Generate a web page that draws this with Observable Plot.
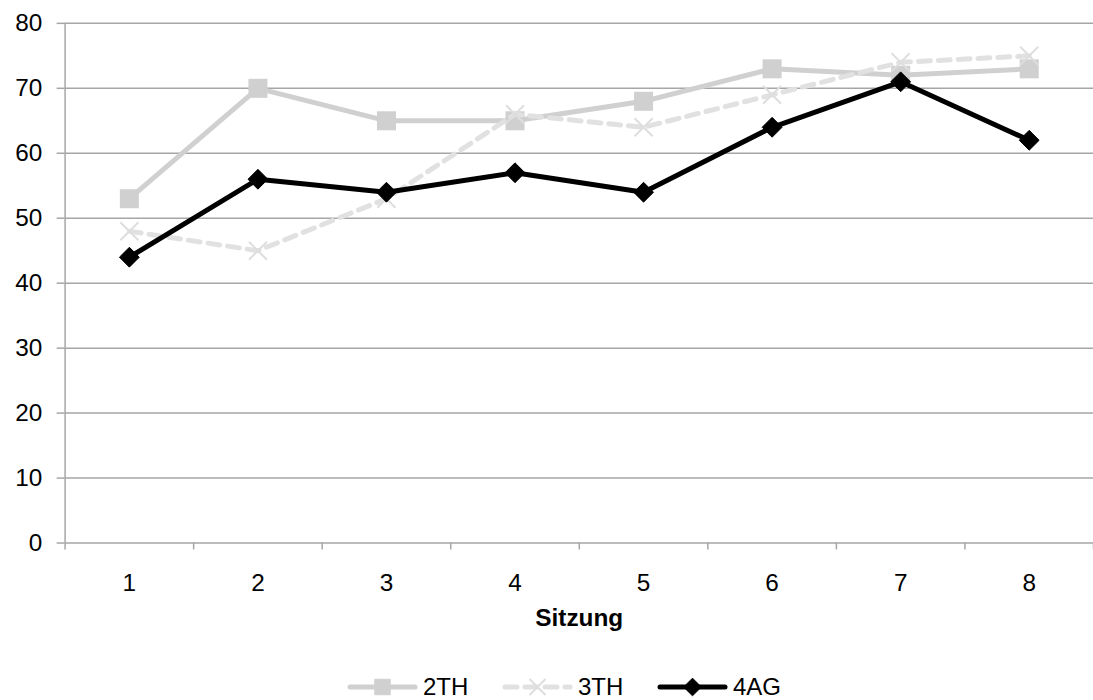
<!DOCTYPE html>
<html>
<head>
<meta charset="utf-8">
<script src="https://cdn.jsdelivr.net/npm/d3@7"></script>
<script src="https://cdn.jsdelivr.net/npm/@observablehq/plot@0.6"></script>
<style>
  html, body { margin: 0; padding: 0; background: #fff; overflow: hidden; }
  body { font-family: "Liberation Sans", Arial, sans-serif; width: 1093px; height: 700px; position: relative; }
  #legend { position: absolute; left: 347px; top: 674px; height: 25px; display: flex; align-items: center; font-size: 24px; line-height: 25px; color: #000; }
  .item { display: flex; align-items: center; width: 155px; height: 25px; }
  .item svg { display: block; margin-right: 5px; }
</style>
</head>
<body>
<div id="chart"></div>
<div id="legend"></div>
<script>
const sessions = [1, 2, 3, 4, 5, 6, 7, 8];
const values2TH = [53, 70, 65, 65, 68, 73, 72, 73];
const values3TH = [48, 45, 53, 66, 64, 69, 74, 75];
const values4AG = [44, 56, 54, 57, 54, 64, 71, 62];
const seriesNames = ["2TH", "3TH", "4AG"];
const yTicks = [0, 10, 20, 30, 40, 50, 60, 70, 80];
const xLabel = "Sitzung";

const toRows = (vals) => sessions.map((s, i) => ({ s, v: vals[i] }));
const d2 = toRows(values2TH), d3r = toRows(values3TH), d4 = toRows(values4AG);
const boundaries = sessions.map(s => s - 0.5).concat([sessions.length + 0.5]);

const gridCol = "#a6a6a6";
const font = 24.5;

const chart = Plot.plot({
  width: 1100,
  height: 650,
  marginLeft: 65,
  marginRight: 0,
  marginTop: 23,
  marginBottom: 104,
  style: { fontFamily: "Liberation Sans, Arial, sans-serif", background: "#fff", color: "#000", fontSize: font + "px" },
  x: { domain: [0.5, 8.5] },
  y: { domain: [0, 80] },
  marks: [
    Plot.gridY(yTicks, { stroke: gridCol, strokeOpacity: 1, strokeWidth: 1.5 }),
    Plot.ruleX([0.5], { stroke: gridCol, strokeWidth: 1.5 }),
    Plot.axisY(yTicks, { tickSize: 8, tickPadding: 15, stroke: gridCol, strokeWidth: 1.5, fill: "#000", fontSize: font, tickFormat: d => String(d), label: null }),
    Plot.axisX(boundaries, { tickSize: 7, tickFormat: () => "", stroke: gridCol, strokeWidth: 1.5, label: null }),
    Plot.axisX(sessions, { tickSize: 0, tickPadding: 31, fill: "#000", fontSize: font, tickFormat: d => String(d), label: null }),
    Plot.text([xLabel], { text: d => d, frameAnchor: "bottom", dy: 84, fontWeight: "bold", fontSize: font, fill: "#000" }),
    Plot.line(d2, { x: "s", y: "v", stroke: "#d0d0d0", strokeWidth: 5 }),
    Plot.dot(d2, { x: "s", y: "v", symbol: "square", r: 10.8, fill: "#d0d0d0", stroke: "none" }),
    Plot.line(d3r, { x: "s", y: "v", stroke: "#e1e1e1", strokeWidth: 5, strokeDasharray: "12,8", strokeLinecap: "round" }),
    Plot.dot(d3r, { x: "s", y: "v", symbol: "times", r: 8.3, stroke: "#dedede", strokeWidth: 2, fill: "none" }),
    Plot.line(d4, { x: "s", y: "v", stroke: "#000", strokeWidth: 5 }),
    Plot.dot(d4, { x: "s", y: "v", symbol: "diamond2", r: 9, fill: "#000", stroke: "#000", strokeWidth: 1 })
  ]
});
document.getElementById("chart").appendChild(chart);

// Legend
const legendStyles = {
  "2TH": { stroke: "#d0d0d0", dash: null, marker: "square", fill: "#d0d0d0" },
  "3TH": { stroke: "#e1e1e1", dash: "12,8", marker: "times", fill: "none" },
  "4AG": { stroke: "#000", dash: null, marker: "diamond", fill: "#000" }
};
const legend = document.getElementById("legend");
const ns = "http://www.w3.org/2000/svg";
seriesNames.forEach(name => {
  const st = legendStyles[name];
  const item = document.createElement("div");
  item.className = "item";
  const svg = document.createElementNS(ns, "svg");
  svg.setAttribute("width", 71);
  svg.setAttribute("height", 24);
  const line = document.createElementNS(ns, "line");
  line.setAttribute("x1", 3); line.setAttribute("x2", 68);
  line.setAttribute("y1", 12); line.setAttribute("y2", 12);
  line.setAttribute("stroke", st.stroke);
  line.setAttribute("stroke-width", 5);
  line.setAttribute("stroke-linecap", "round");
  if (st.dash) line.setAttribute("stroke-dasharray", st.dash);
  svg.appendChild(line);
  const sym = st.marker === "square" ? d3.symbolSquare : st.marker === "times" ? d3.symbolTimes : d3.symbolDiamond2;
  const p = document.createElementNS(ns, "path");
  p.setAttribute("d", d3.symbol(sym, st.marker === "square" ? 240 : st.marker === "times" ? 170 : 200)());
  p.setAttribute("transform", "translate(35.5,12)");
  if (st.marker === "times") {
    p.setAttribute("fill", "none"); p.setAttribute("stroke", "#dedede"); p.setAttribute("stroke-width", 2);
  } else {
    p.setAttribute("fill", st.fill); p.setAttribute("stroke", st.fill);
  }
  svg.appendChild(p);
  item.appendChild(svg);
  const t = document.createElement("span");
  t.textContent = name;
  item.appendChild(t);
  legend.appendChild(item);
});
</script>
</body>
</html>
